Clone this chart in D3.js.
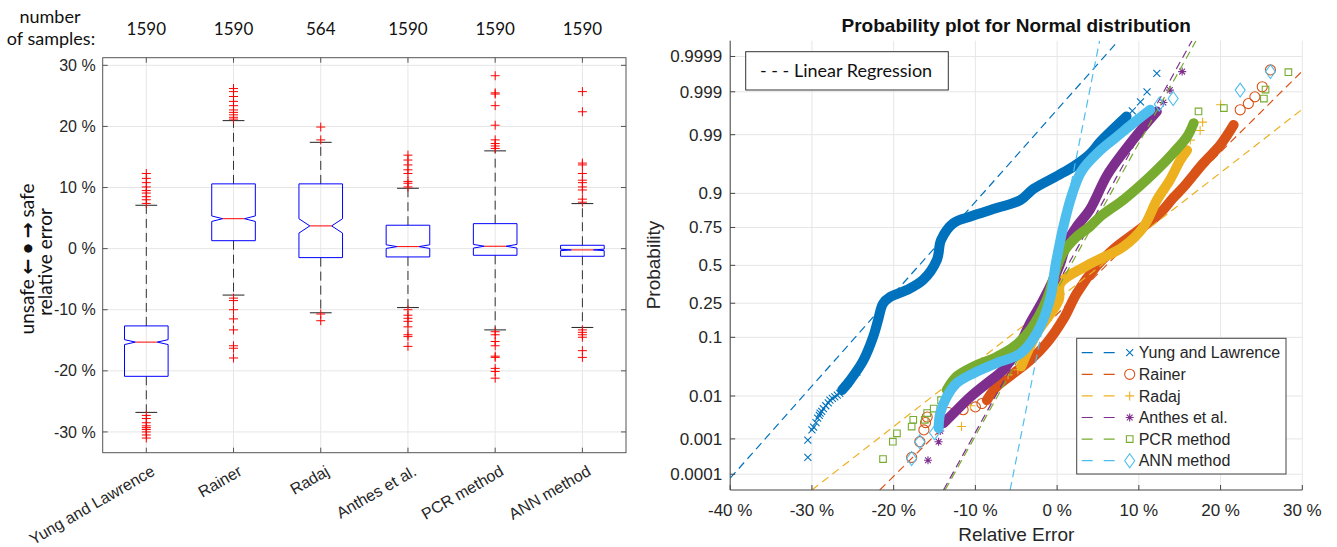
<!DOCTYPE html>
<html>
<head>
<meta charset="utf-8">
<script src="https://cdn.jsdelivr.net/npm/d3@7"></script>
<style>
  body { margin: 0; background: #fff; }
  svg { display: block; }
</style>
</head>
<body>
<svg id="chart" width="1337" height="547"></svg>
<script>
(function () {
  'use strict';

  // ---------- data: box plot (relative error in %) ----------
  const methods      = ['Yung and Lawrence', 'Rainer', 'Radaj', 'Anthes et al.', 'PCR method', 'ANN method'];
  const sampleCounts = [1590, 1590, 564, 1590, 1590, 1590];
  const whiskerLow   = [-26.8, -7.6, -10.5, -9.65, -13.3, -12.9];
  const quartile1    = [-20.9, 1.3, -1.47, -1.36, -1.09, -1.25];
  const medians      = [-15.3, 4.9, 3.72, 0.33, 0.39, -0.21];
  const quartile3    = [-12.65, 10.6, 10.6, 3.83, 4.09, 0.55];
  const whiskerHigh  = [7.1, 20.95, 17.4, 9.88, 16.0, 7.37];
  const notchHalf    = [0.4, 0.45, 1.17, 0.3, 0.3, 0.12];
  const outliers = [
    [7.4, 8.0, 8.5, 9.1, 9.5, 10.1, 10.8, 11.5, 12.3, -27.3, -27.8, -28.5, -29.0, -29.3, -29.6, -30.0, -30.5, -31.0],
    [21.2, 21.5, 21.9, 22.3, 22.7, 23.4, 24.1, 24.9, 25.7, 26.2, -8.1, -8.5, -10.0, -11.5, -13.3, -15.9, -16.3, -17.9],
    [17.8, 19.9, -10.7, -11.8],
    [10.1, 10.7, 11.0, 12.3, 12.9, 13.7, 14.5, 15.3, -10.0, -10.9, -11.4, -11.9, -12.8, -14.1, -14.4, -16.0],
    [16.4, 16.8, 17.2, 17.8, 20.2, 23.4, 25.3, 25.5, 28.3, -13.6, -14.1, -15.2, -15.9, -17.6, -17.8, -19.6, -20.1, -21.2],
    [7.6, 8.1, 9.6, 10.1, 10.8, 11.2, 12.3, 13.7, 14.0, 22.4, 25.7, -13.3, -13.7, -14.1, -14.5, -16.7, -17.8]
  ];
  const boxTicks = [-30, -20, -10, 0, 10, 20, 30];

  // ---------- data: normal probability plot ----------
  // points are [relative error %, standard normal score]
  const probTicks = [0.0001, 0.001, 0.01, 0.1, 0.25, 0.5, 0.75, 0.9, 0.99, 0.999, 0.9999];
  const errTicks  = [-40, -30, -20, -10, 0, 10, 20, 30];

  const yungCore = [[-26.3,-2.22],[-25.3,-2.04],[-23.7,-1.69],[-22.5,-1.27],[-21.9,-0.97],[-21.3,-0.68],[-20.4,-0.56],
    [-18.4,-0.44],[-16.4,-0.26],[-14.7,0.1],[-14.2,0.45],[-12.7,0.75],[-10.6,0.87],[-7.4,1.02],[-4.5,1.16],
    [-2.9,1.36],[0.1,1.6],[2.0,1.76],[4.0,1.98],[5.3,2.2],[8.5,2.65]];
  const yungTail = [[-30.5,-3.42],[-30.5,-3.11],[-30.0,-2.93],[-29.8,-2.88],[-29.5,-2.8],[-29.3,-2.72],
    [-29.1,-2.67],[-29.0,-2.63],[-28.8,-2.6],[-28.6,-2.55],[-28.3,-2.5],[-28.0,-2.45],[-27.8,-2.4],
    [-27.5,-2.37],[-27.2,-2.34],[-26.9,-2.31],[-26.6,-2.28],[-25.9,-2.15],[-25.6,-2.1],[-24.5,-1.9],
    [9.2,2.75],[10.2,2.91],[11.0,3.09],[12.2,3.42]];

  const rainerCore = [[-8.6,-2.4],[-7.4,-2.16],[-5.3,-1.92],[-3.3,-1.69],[-1.3,-1.39],[0.8,-0.95],[2.4,-0.5],
    [4.9,0.0],[7.0,0.3],[10.0,0.63],[12.6,0.93],[14.2,1.2],[15.5,1.4],[17.9,1.82],[20.0,2.15],[21.6,2.5]];
  const rainerTail = [[-17.8,-3.42],[-16.8,-3.14],[-16.3,-2.93],[-16.1,-2.8],[-15.9,-2.7],[-13.3,-2.62],
    [-11.5,-2.57],[-10.0,-2.52],[-9.2,-2.46],[22.4,2.77],[23.4,2.88],[24.2,3.0],[25.1,3.18],[26.1,3.48]];

  const radajCore = [[-4.4,-1.8],[-2.5,-1.21],[0.2,-0.62],[0.4,-0.32],[3.7,0.0],[8.1,0.33],[10.6,0.69],
    [12.2,1.16],[13.8,1.52],[15.1,1.88],[15.9,2.05]];
  const radajTail = [[-11.7,-2.87],[-10.6,-2.5],[-6.0,-1.95],[-4.8,-1.86],
    [16.3,2.23],[17.5,2.4],[17.8,2.55],[20.0,2.86]];

  const anthesCore = [[-13.9,-2.81],[-12.3,-2.58],[-10.6,-2.34],[-8.6,-2.1],[-6.6,-1.86],[-4.9,-1.51],
    [-3.3,-1.03],[-1.7,-0.62],[0.3,0.0],[1.2,0.4],[2.4,0.69],[4.0,0.99],[6.1,1.6],[8.3,2.05],[10.6,2.47],[12.2,2.74]];
  const anthesTail = [[-15.8,-3.47],[-14.5,-3.14],[-14.3,-2.95],[13.0,2.9],[13.8,3.12],[15.3,3.45]];

  const pcrCore = [[-13.5,-2.22],[-12.3,-1.98],[-10.2,-1.8],[-7.4,-1.63],[-5.3,-1.45],[-3.3,-1.15],
    [-1.3,-0.62],[0.0,-0.02],[0.8,0.24],[2.4,0.51],[4.0,0.69],[5.3,0.87],[8.3,1.19],[12.0,1.67],
    [14.2,2.0],[15.9,2.29],[16.7,2.53]];
  const pcrTail = [[-21.3,-3.45],[-20.1,-3.14],[-19.6,-2.99],[-17.8,-2.87],[-17.6,-2.75],[-16.2,-2.75],
    [-15.9,-2.63],[-15.1,-2.55],[-14.2,-2.4],[17.3,2.74],[20.4,2.8],[25.3,2.97],[25.5,3.13],[28.3,3.44]];

  const annCore = [[-14.5,-2.9],[-14.3,-2.63],[-13.5,-2.34],[-12.3,-2.1],[-10.2,-1.92],[-7.4,-1.74],
    [-4.5,-1.57],[-2.5,-1.21],[-0.9,-0.62],[-0.2,0.0],[0.2,0.3],[0.7,0.65],[1.8,1.25],[3.0,1.68],
    [5.3,2.05],[7.3,2.29],[9.3,2.53],[11.4,2.77]];
  const annTail = [[-17.8,-3.44],[-16.8,-3.14],[-15.0,-2.98],[12.5,2.87],[14.2,2.97],[22.4,3.12],[26.1,3.45]];

  // regression lines: two [error %, normal score] points each
  const fitLines = [
    [[-40, -3.79], [7.5, 4.0]],
    [[-21.7, -4.0], [30, 3.46]],
    [[-30, -4.0], [30, 2.78]],
    [[-13.9, -4.0], [16.5, 4.0]],
    [[-13.7, -4.0], [17.0, 4.0]],
    [[-5.75, -4.0], [5.2, 4.0]]
  ];

  const seriesColors = ['#0072BD', '#D95319', '#EDB120', '#7E2F8E', '#77AC30', '#4DBEEE'];
  const seriesMarkers = ['x', 'o', '+', '*', 's', 'd'];
  const cores = [yungCore, rainerCore, radajCore, anthesCore, pcrCore, annCore];
  const tails = [yungTail, rainerTail, radajTail, anthesTail, pcrTail, annTail];

  const ARIAL  = "'Liberation Sans', Arial, sans-serif";
  const CALIB  = "Lato, 'Open Sans', sans-serif";
  const TXT    = '#262626';
  const GRID   = '#e6e6e6';

  // inverse of the standard normal CDF (Acklam)
  function probit(p) {
    const a = [-3.969683028665376e+01, 2.209460984245205e+02, -2.759285104469687e+02,
               1.383577518672690e+02, -3.066479806614716e+01, 2.506628277459239e+00];
    const b = [-5.447609879822406e+01, 1.615858368580409e+02, -1.556989798598866e+02,
               6.680131188771972e+01, -1.328068155288572e+01];
    const c = [-7.784894002430293e-03, -3.223964580411365e-01, -2.400758277161838e+00,
               -2.549732539343734e+00, 4.374664141464968e+00, 2.938163982698783e+00];
    const d = [7.784695709041462e-03, 3.224671290700398e-01, 2.445134137142996e+00, 3.754408661907416e+00];
    const pl = 0.02425;
    let q, r;
    if (p < pl) {
      q = Math.sqrt(-2 * Math.log(p));
      return (((((c[0]*q+c[1])*q+c[2])*q+c[3])*q+c[4])*q+c[5]) / ((((d[0]*q+d[1])*q+d[2])*q+d[3])*q+1);
    }
    if (p <= 1 - pl) {
      q = p - 0.5; r = q * q;
      return (((((a[0]*r+a[1])*r+a[2])*r+a[3])*r+a[4])*r+a[5])*q / (((((b[0]*r+b[1])*r+b[2])*r+b[3])*r+b[4])*r+1);
    }
    q = Math.sqrt(-2 * Math.log(1 - p));
    return -(((((c[0]*q+c[1])*q+c[2])*q+c[3])*q+c[4])*q+c[5]) / ((((d[0]*q+d[1])*q+d[2])*q+d[3])*q+1);
  }

  function markerPath(type) {
    switch (type) {
      case 'x': return 'M-3.5,-3.5L3.5,3.5M-3.5,3.5L3.5,-3.5';
      case '+': return 'M-4.5,0H4.5M0,-4.5V4.5';
      case '*': return 'M-4,0H4M0,-4V4M-2.9,-2.9L2.9,2.9M-2.9,2.9L2.9,-2.9';
      case 's': return 'M-3.3,-3.3H3.3V3.3H-3.3Z';
      case 'd': return 'M0,-7L5,0L0,7L-5,0Z';
      default:  return d3.symbol(d3.symbolCircle, 80)();
    }
  }

  const svg = d3.select('#chart');

  // =============== LEFT: notched box plot ===============
  const L = { left: 102.7, right: 626, top: 57.7, bottom: 452.7 };
  const yL = d3.scaleLinear().domain([-33.4, 31.25]).range([L.bottom, L.top]);
  const xL = d3.scaleBand().domain(methods).range([L.left, L.right]);
  const cx = m => xL(m) + xL.bandwidth() / 2;
  const boxW = xL.bandwidth() * 0.5;

  const gl = svg.append('g');

  gl.selectAll('.hgrid').data(boxTicks).join('line')
    .attr('x1', L.left).attr('x2', L.right)
    .attr('y1', d => yL(d)).attr('y2', d => yL(d))
    .attr('stroke', GRID).attr('stroke-width', 1);
  gl.selectAll('.vgrid').data(methods).join('line')
    .attr('x1', cx).attr('x2', cx)
    .attr('y1', L.top).attr('y2', L.bottom)
    .attr('stroke', GRID).attr('stroke-width', 1);

  // whiskers + caps
  methods.forEach((m, i) => {
    const x = cx(m);
    [[quartile3[i], whiskerHigh[i]], [quartile1[i], whiskerLow[i]]].forEach(([a, b]) => {
      gl.append('line')
        .attr('x1', x).attr('x2', x).attr('y1', yL(a)).attr('y2', yL(b))
        .attr('stroke', '#333').attr('stroke-width', 1).attr('stroke-dasharray', '9,5');
      gl.append('line')
        .attr('x1', x - boxW / 4).attr('x2', x + boxW / 4)
        .attr('y1', yL(b)).attr('y2', yL(b))
        .attr('stroke', '#222').attr('stroke-width', 1);
    });

    // notched box
    const l = x - boxW / 2, r = x + boxW / 2, ind = boxW * 0.25;
    const nHi = yL(medians[i] + notchHalf[i]), nLo = yL(medians[i] - notchHalf[i]), md = yL(medians[i]);
    const p = d3.path();
    p.moveTo(l, yL(quartile3[i]));
    p.lineTo(r, yL(quartile3[i]));
    p.lineTo(r, nHi); p.lineTo(r - ind, md); p.lineTo(r, nLo);
    p.lineTo(r, yL(quartile1[i]));
    p.lineTo(l, yL(quartile1[i]));
    p.lineTo(l, nLo); p.lineTo(l + ind, md); p.lineTo(l, nHi);
    p.closePath();
    gl.append('path').attr('d', p.toString())
      .attr('fill', 'none').attr('stroke', '#0000ff').attr('stroke-width', 1);
    gl.append('line')
      .attr('x1', l + ind).attr('x2', r - ind).attr('y1', md).attr('y2', md)
      .attr('stroke', '#ff0000').attr('stroke-width', 1);

    gl.selectAll(null).data(outliers[i]).join('path')
      .attr('d', markerPath('+'))
      .attr('transform', v => `translate(${x},${yL(v)})`)
      .attr('fill', 'none').attr('stroke', '#ff0000').attr('stroke-width', 1);
  });

  // frame + inner ticks
  gl.append('rect')
    .attr('x', L.left).attr('y', L.top)
    .attr('width', L.right - L.left).attr('height', L.bottom - L.top)
    .attr('fill', 'none').attr('stroke', '#555').attr('stroke-width', 1);
  boxTicks.forEach(t => {
    gl.append('line').attr('x1', L.left).attr('x2', L.left + 5).attr('y1', yL(t)).attr('y2', yL(t)).attr('stroke', '#555');
    gl.append('line').attr('x1', L.right - 5).attr('x2', L.right).attr('y1', yL(t)).attr('y2', yL(t)).attr('stroke', '#555');
  });
  methods.forEach(m => {
    gl.append('line').attr('x1', cx(m)).attr('x2', cx(m)).attr('y1', L.top).attr('y2', L.top + 5).attr('stroke', '#555');
    gl.append('line').attr('x1', cx(m)).attr('x2', cx(m)).attr('y1', L.bottom - 5).attr('y2', L.bottom).attr('stroke', '#555');
  });

  gl.selectAll('.ylab').data(boxTicks).join('text')
    .attr('x', L.left - 7).attr('y', d => yL(d))
    .attr('dy', '0.35em').attr('text-anchor', 'end')
    .attr('font-family', ARIAL).attr('font-size', 16).attr('fill', TXT)
    .text(d => `${d} %`);

  gl.selectAll('.xlab').data(methods).join('text')
    .attr('transform', m => `translate(${cx(m) + 4},${L.bottom + 12}) rotate(-30)`)
    .attr('dy', '0.7em').attr('text-anchor', 'end')
    .attr('font-family', ARIAL).attr('font-size', 16).attr('fill', TXT)
    .text(m => m);

  gl.selectAll('.count').data(methods).join('text')
    .attr('x', cx).attr('y', 35).attr('text-anchor', 'middle')
    .attr('font-family', CALIB).attr('font-size', 17).attr('fill', '#111')
    .text((m, i) => sampleCounts[i]);
  gl.append('text').attr('x', 50).attr('y', 23).attr('text-anchor', 'middle')
    .attr('font-family', CALIB).attr('font-size', 18).attr('fill', '#111').text('number');
  gl.append('text').attr('x', 51).attr('y', 45).attr('text-anchor', 'middle')
    .attr('font-family', CALIB).attr('font-size', 18).attr('fill', '#111').text('of samples:');

  const yt1 = gl.append('text')
    .attr('transform', 'translate(34,259) rotate(-90)').attr('text-anchor', 'middle')
    .attr('font-family', CALIB).attr('font-size', 19).attr('fill', '#111');
  yt1.append('tspan').text('unsafe ');
  yt1.append('tspan').attr('font-weight', 'bold').attr('font-family', "'DejaVu Sans', sans-serif").text('←');
  yt1.append('tspan').attr('font-weight', 'bold').text(' • ');
  yt1.append('tspan').attr('font-weight', 'bold').attr('font-family', "'DejaVu Sans', sans-serif").text('→');
  yt1.append('tspan').text(' safe');
  gl.append('text')
    .attr('transform', 'translate(52,262) rotate(-90)').attr('text-anchor', 'middle')
    .attr('font-family', CALIB).attr('font-size', 19).attr('fill', '#111')
    .text('relative error');

  // =============== RIGHT: normal probability plot ===============
  const R = { left: 730.2, right: 1302.3, top: 40.7, bottom: 490 };
  const xR = d3.scaleLinear().domain([-40, 30]).range([R.left, R.right]);
  const yR = d3.scaleLinear().domain([-4, 4]).range([R.bottom, R.top]);

  const gr = svg.append('g');

  gr.selectAll('.vg').data(errTicks).join('line')
    .attr('x1', d => xR(d)).attr('x2', d => xR(d)).attr('y1', R.top).attr('y2', R.bottom)
    .attr('stroke', GRID).attr('stroke-width', 1);
  gr.selectAll('.hg').data(probTicks).join('line')
    .attr('x1', R.left).attr('x2', R.right)
    .attr('y1', d => yR(probit(d))).attr('y2', d => yR(probit(d)))
    .attr('stroke', GRID).attr('stroke-width', 1);

  svg.append('defs').append('clipPath').attr('id', 'clipR')
    .append('rect').attr('x', R.left).attr('y', R.top)
    .attr('width', R.right - R.left).attr('height', R.bottom - R.top);

  const plot = gr.append('g').attr('clip-path', 'url(#clipR)');
  const band = d3.line().x(d => xR(d[0])).y(d => yR(d[1])).curve(d3.curveCatmullRom.alpha(0.5));

  cores.forEach((core, i) => {
    plot.append('path').attr('d', band(core))
      .attr('fill', 'none').attr('stroke', seriesColors[i])
      .attr('stroke-width', 10).attr('stroke-linecap', 'round').attr('stroke-linejoin', 'round');
    plot.selectAll(null).data(tails[i]).join('path')
      .attr('d', markerPath(seriesMarkers[i]))
      .attr('transform', d => `translate(${xR(d[0])},${yR(d[1])})`)
      .attr('fill', 'none').attr('stroke', seriesColors[i]).attr('stroke-width', 1.1);
    plot.append('path')
      .attr('d', d3.line().x(d => xR(d[0])).y(d => yR(d[1]))(fitLines[i]))
      .attr('fill', 'none').attr('stroke', seriesColors[i])
      .attr('stroke-width', 1.2).attr('stroke-dasharray', '8,5');
  });

  // axes (left + bottom only)
  gr.append('line').attr('x1', R.left).attr('x2', R.left).attr('y1', R.top).attr('y2', R.bottom)
    .attr('stroke', '#444').attr('stroke-width', 1);
  gr.append('line').attr('x1', R.left).attr('x2', R.right).attr('y1', R.bottom).attr('y2', R.bottom)
    .attr('stroke', '#444').attr('stroke-width', 1);
  probTicks.forEach(t => {
    gr.append('line').attr('x1', R.left).attr('x2', R.left + 5)
      .attr('y1', yR(probit(t))).attr('y2', yR(probit(t))).attr('stroke', '#444');
  });
  errTicks.forEach(t => {
    gr.append('line').attr('x1', xR(t)).attr('x2', xR(t))
      .attr('y1', R.bottom - 5).attr('y2', R.bottom).attr('stroke', '#444');
  });

  gr.selectAll('.pl').data(probTicks).join('text')
    .attr('x', R.left - 8).attr('y', d => yR(probit(d))).attr('dy', '0.35em')
    .attr('text-anchor', 'end').attr('font-family', ARIAL).attr('font-size', 17).attr('fill', TXT)
    .text(d => d);
  gr.selectAll('.el').data(errTicks).join('text')
    .attr('x', d => xR(d)).attr('y', 516).attr('text-anchor', 'middle')
    .attr('font-family', ARIAL).attr('font-size', 17).attr('fill', TXT)
    .text(d => `${d} %`);

  gr.append('text').attr('x', (R.left + R.right) / 2).attr('y', 32).attr('text-anchor', 'middle')
    .attr('font-family', ARIAL).attr('font-size', 19).attr('font-weight', 'bold').attr('fill', '#111')
    .text('Probability plot for Normal distribution');
  gr.append('text').attr('x', (R.left + R.right) / 2).attr('y', 541).attr('text-anchor', 'middle')
    .attr('font-family', ARIAL).attr('font-size', 19).attr('fill', TXT)
    .text('Relative Error');
  gr.append('text').attr('transform', 'translate(660,265) rotate(-90)').attr('text-anchor', 'middle')
    .attr('font-family', ARIAL).attr('font-size', 19).attr('fill', TXT)
    .text('Probability');

  // "Linear Regression" note
  gr.append('rect').attr('x', 745.7).attr('y', 51.7).attr('width', 202.6).attr('height', 38.3)
    .attr('fill', '#fff').attr('stroke', '#333').attr('stroke-width', 1);
  gr.append('text').attr('x', 760).attr('y', 76.5)
    .attr('font-family', CALIB).attr('font-size', 18).attr('fill', '#111')
    .text('- - - Linear Regression');

  // series legend
  const lg = gr.append('g').attr('transform', 'translate(1076.7,338.3)');
  lg.append('rect').attr('width', 209.3).attr('height', 135.7)
    .attr('fill', '#fff').attr('stroke', '#444').attr('stroke-width', 1);
  methods.forEach((m, i) => {
    const row = lg.append('g').attr('transform', `translate(0,${14.4 + i * 21.6})`);
    row.append('line').attr('x1', 5).attr('x2', 39).attr('y1', 0).attr('y2', 0)
      .attr('stroke', seriesColors[i]).attr('stroke-width', 1.2).attr('stroke-dasharray', '11,11');
    row.append('path').attr('d', markerPath(seriesMarkers[i])).attr('transform', 'translate(53,0)')
      .attr('fill', 'none').attr('stroke', seriesColors[i]).attr('stroke-width', 1.1);
    row.append('text').attr('x', 62).attr('y', 0).attr('dy', '0.36em')
      .attr('font-family', ARIAL).attr('font-size', 16).attr('fill', TXT)
      .text(m);
  });
})();
</script>
</body>
</html>
